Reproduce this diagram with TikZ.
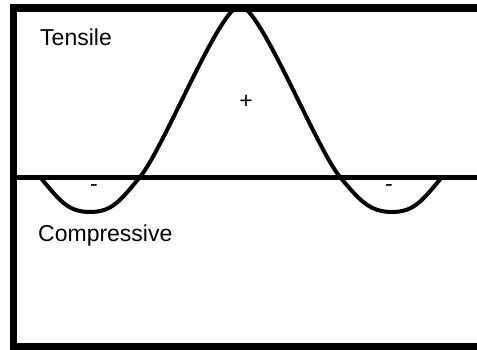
\documentclass[tikz,border=0pt]{standalone}
\usepackage{fontspec}
\setmainfont{Liberation Sans}
\tikzset{
    lbl/.style={font=\fontsize{23}{27}\selectfont, inner sep=0pt},
    frame/.style={line width=7.5pt},
    curve/.style={line width=4pt, line join=round}
}
\begin{document}
\begin{tikzpicture}[x=1pt,y=-1pt]
    \useasboundingbox (0,0) rectangle (477,350);
    % stress curve
    \draw[curve] (40,177) .. controls (60,201) and (68,212) .. (90,212)
        .. controls (112,212) and (120,201) .. (140,177)
        .. controls (164,148) and (220,6) .. (240,6)
        .. controls (260,6) and (316,148) .. (340,177)
        .. controls (360,201) and (370,212) .. (392,212)
        .. controls (414,212) and (422,201) .. (442,177);
    % frame and axis
    \draw[frame] (477,8) -- (13.5,8) -- (13.5,346.5) -- (477,346.5);
    \draw[line width=5pt] (13.5,177.5) -- (477,177.5);
    \node[lbl, anchor=base west] (tens) at (40,46) {Tensile};
    \node[lbl, anchor=base west] (comp) at (38,241) {Compressive};
    \node[lbl] (plus) at (246,102) {+};
    \node[lbl] (minusL) at (94,188) {-};
    \node[lbl] (minusR) at (389,188) {-};
\end{tikzpicture}
\end{document}
